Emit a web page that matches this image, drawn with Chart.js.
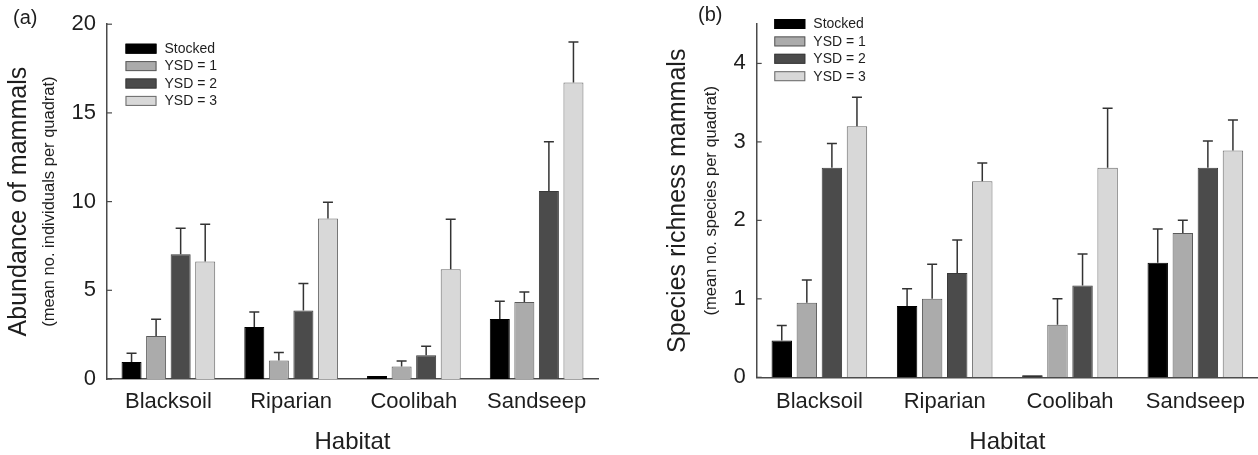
<!DOCTYPE html>
<html><head><meta charset="utf-8">
<script src="https://cdn.jsdelivr.net/npm/chart.js@4.4.1/dist/chart.umd.min.js"></script>
<style>
html,body{margin:0;padding:0;background:#fff;}
#wrap{position:relative;width:1258px;height:455px;overflow:hidden;}
.box{position:absolute;top:0;height:455px;width:629px;}
#boxA{left:0;}
#boxB{left:629px;}
</style></head><body>
<div id="wrap"><div class="box" id="boxA"><canvas id="cA"></canvas></div><div class="box" id="boxB"><canvas id="cB"></canvas></div></div>
<script>
const habitats = ['Blacksoil', 'Riparian', 'Coolibah', 'Sandseep'];
const seriesNames = ['Stocked', 'YSD = 1', 'YSD = 2', 'YSD = 3'];
const seriesColors = ['#000000', '#ababab', '#4b4b4b', '#d8d8d8'];
const seriesBorders = ['#000000', '#5a5a5a', '#3a3a3a', '#6a6a6a'];

// (a) Abundance of mammals: means and standard errors
const abundStocked = [0.96, 2.93, 0.17, 3.38];
const abundYSD1    = [2.43, 1.04, 0.70, 4.34];
const abundYSD2    = [7.03, 3.86, 1.34, 10.6];
const abundYSD3    = [6.62, 9.05, 6.19, 16.72];
const abundSEStocked = [0.49, 0.85, 0, 1.00];
const abundSEYSD1    = [0.94, 0.45, 0.32, 0.57];
const abundSEYSD2    = [1.47, 1.52, 0.50, 2.77];
const abundSEYSD3    = [2.10, 0.92, 2.81, 2.27];
const abundTicks = [0, 5, 10, 15, 20];

// (b) Species richness mammals: means and standard errors
const richStocked = [0.47, 0.91, 0.025, 1.46];
const richYSD1    = [0.95, 1.00, 0.67, 1.84];
const richYSD2    = [2.67, 1.33, 1.17, 2.67];
const richYSD3    = [3.20, 2.50, 2.67, 2.89];
const richSEStocked = [0.19, 0.22, 0, 0.43];
const richSEYSD1    = [0.29, 0.44, 0.33, 0.16];
const richSEYSD2    = [0.31, 0.42, 0.40, 0.34];
const richSEYSD3    = [0.37, 0.23, 0.76, 0.39];
const richTicks = [0, 1, 2, 3, 4];

const FONT = '"Liberation Sans", Arial, Helvetica, sans-serif';
const TXT = '#1e1e1e';
const AX = '#4a4a4a';

const decorPlugin = {
  id: 'decor',
  afterDatasetsDraw(chart) {
    const o = chart.options.plugins.decor;
    const ctx = chart.ctx;
    const ca = chart.chartArea;
    const ys = chart.scales.y;
    ctx.save();
    // error bars
    ctx.strokeStyle = '#333';
    ctx.lineWidth = 1.5;
    chart.data.datasets.forEach((ds, i) => {
      const meta = chart.getDatasetMeta(i);
      meta.data.forEach((el, j) => {
        const se = ds.se[j];
        if (!se) return;
        const x = el.x;
        const y0 = ys.getPixelForValue(ds.data[j]);
        const y1 = ys.getPixelForValue(ds.data[j] + se);
        ctx.beginPath();
        ctx.moveTo(x, y0); ctx.lineTo(x, y1);
        ctx.moveTo(x - 5, y1); ctx.lineTo(x + 5, y1);
        ctx.stroke();
      });
    });
    // inward y ticks
    ctx.strokeStyle = AX;
    ctx.lineWidth = 1.2;
    ys.ticks.forEach(t => {
      const y = ys.getPixelForValue(t.value);
      ctx.beginPath(); ctx.moveTo(ca.left, y); ctx.lineTo(ca.left + 5, y); ctx.stroke();
    });
    // legend
    ctx.font = '14px ' + FONT;
    ctx.textBaseline = 'middle';
    ctx.textAlign = 'left';
    chart.data.datasets.forEach((ds, i) => {
      const cy = o.legendY + i * 17.4;
      ctx.fillStyle = ds.backgroundColor;
      ctx.fillRect(o.legendX, cy - 5, 31, 10);
      ctx.strokeStyle = ds.borderColor;
      ctx.lineWidth = 1;
      ctx.strokeRect(o.legendX + 0.5, cy - 4.5, 30, 9);
      ctx.fillStyle = TXT;
      ctx.fillText(ds.label, o.legendX + 39, cy + 0.5);
    });
    // panel label
    ctx.font = '20px ' + FONT;
    ctx.fillStyle = TXT;
    ctx.fillText(o.panel, o.panelX, o.panelY);
    // x title
    ctx.font = '24px ' + FONT;
    ctx.textAlign = 'center';
    ctx.textBaseline = 'alphabetic';
    ctx.fillText('Habitat', (ca.left + ca.right) / 2, 449);
    // y titles
    const cyMid = (ca.top + ca.bottom) / 2;
    ctx.save();
    ctx.translate(o.yTitleX, cyMid);
    ctx.rotate(-Math.PI / 2);
    ctx.textBaseline = 'middle';
    ctx.font = '25px ' + FONT;
    ctx.fillText(o.yTitle, 0, 0);
    ctx.restore();
    ctx.save();
    ctx.translate(o.ySubX, cyMid);
    ctx.rotate(-Math.PI / 2);
    ctx.textBaseline = 'middle';
    ctx.font = '16.5px ' + FONT;
    ctx.fillText(o.ySub, 0, 0);
    ctx.restore();
    ctx.restore();
  }
};

function makeDatasets(vals, ses) {
  return seriesNames.map((n, i) => ({
    label: n,
    data: vals[i],
    se: ses[i],
    backgroundColor: seriesColors[i],
    borderColor: seriesBorders[i],
    borderWidth: 1,
    borderSkipped: 'bottom',
    categoryPercentage: 0.8,
    barPercentage: 0.815
  }));
}

function makeChart(id, vals, ses, ymax, step, tickList, cfg) {
  return new Chart(document.getElementById(id), {
    type: 'bar',
    data: { labels: habitats, datasets: makeDatasets(vals, ses) },
    plugins: [decorPlugin],
    options: {
      responsive: true,
      maintainAspectRatio: false,
      animation: false,
      devicePixelRatio: 1,
      layout: { padding: { left: 0, right: cfg.padRight, top: cfg.padTop, bottom: 0 } },
      plugins: {
        legend: { display: false },
        tooltip: { enabled: false },
        decor: cfg.decor
      },
      scales: {
        x: {
          grid: { display: false, drawTicks: false },
          border: { display: true, color: AX, width: 1.5 },
          ticks: { color: TXT, font: { family: FONT, size: 22 }, padding: cfg.xPad, maxRotation: 0 },
          afterFit: s => { s.height = cfg.xHeight; }
        },
        y: {
          min: 0, max: ymax,
          grid: { display: false, drawTicks: false },
          border: { display: true, color: AX, width: 1.5 },
          afterBuildTicks: s => { s.ticks = tickList.map(v => ({ value: v })); },
          ticks: { stepSize: step, includeBounds: false, color: TXT, font: { family: FONT, size: 22 }, padding: 11 },
          afterFit: s => { s.width = cfg.yWidth; }
        }
      }
    }
  });
}

makeChart('cA',
  [abundStocked, abundYSD1, abundYSD2, abundYSD3],
  [abundSEStocked, abundSEYSD1, abundSEYSD2, abundSEYSD3],
  20, 5, abundTicks,
  { padRight: 31, padTop: 24, xHeight: 76, xPad: 10, yWidth: 107,
    decor: { panel: '(a)', panelX: 13, panelY: 18, legendX: 125.5, legendY: 48.7,
             yTitle: 'Abundance of mammals', ySub: '(mean no. individuals per quadrat)', yTitleX: 19, ySubX: 49 } });

makeChart('cB',
  [richStocked, richYSD1, richYSD2, richYSD3],
  [richSEStocked, richSEYSD1, richSEYSD2, richSEYSD3],
  4.5, 1, richTicks,
  { padRight: 0, padTop: 15, xHeight: 77.7, xPad: 11, yWidth: 127.7,
    decor: { panel: '(b)', panelX: 69, panelY: 15, legendX: 145.3, legendY: 24,
             yTitle: 'Species richness mammals', ySub: '(mean no. species per quadrat)', yTitleX: 49, ySubX: 82 } });
</script>
</body></html>
